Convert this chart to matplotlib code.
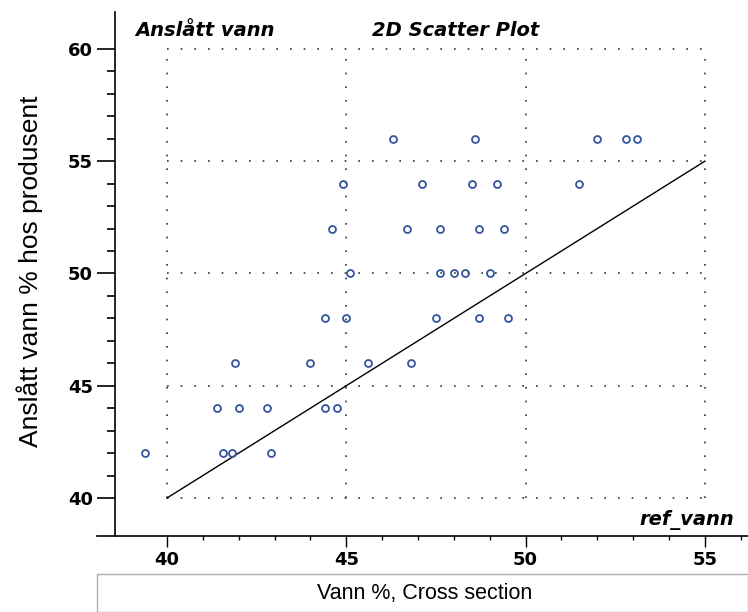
import matplotlib.pyplot as plt
from matplotlib.patches import Rectangle
from matplotlib.ticker import FixedLocator

# data (Vann % cross section vs. Anslått vann %)
x_vals = [46.3, 48.6, 52.0, 52.8, 53.1,
          44.9, 47.1, 48.5, 49.2, 51.5,
          44.6, 46.7, 47.6, 48.7, 49.4,
          45.1, 47.6, 48.0, 48.3, 49.0,
          44.4, 45.0, 47.5, 48.7, 49.5,
          41.9, 44.0, 45.6, 46.8,
          41.4, 42.0, 42.8, 44.4, 44.75,
          39.4, 41.55, 41.8, 42.9]
y_vals = [56, 56, 56, 56, 56,
          54, 54, 54, 54, 54,
          52, 52, 52, 52, 52,
          50, 50, 50, 50, 50,
          48, 48, 48, 48, 48,
          46, 46, 46, 46,
          44, 44, 44, 44, 44,
          42, 42, 42, 42]

ref_line = [40, 55]
x_major = [40, 45, 50, 55]
y_major = [40, 45, 50, 55, 60]
x_minor = list(range(40, 57))
y_minor = list(range(40, 61))

W, H = 748, 612
fig = plt.figure(figsize=(W / 100, H / 100), dpi=100)
ax = fig.add_axes([97 / W, (H - 536) / H, 1 - 97 / W, (536 - 12) / H])

ax.set_xlim(38.05, 56.2)
ax.set_ylim(38.31, 61.64)

# dotted grid inside the 40..55 / 40..60 box
dots = (0, (1, 7.2))
ax.hlines(y_major, x_major[0], x_major[-1], colors='#333333', linewidth=1.2, linestyles=[dots])
ax.vlines(x_major, y_major[0], y_major[-1], colors='#333333', linewidth=1.2, linestyles=[dots])

# reference line y = x
ax.plot(ref_line, ref_line, color='black', linewidth=1)

ax.plot(x_vals, y_vals, linestyle='none', marker='o', markersize=5,
        markerfacecolor='none', markeredgecolor='#34559c', markeredgewidth=1.3)

for s in ['top', 'right']:
    ax.spines[s].set_visible(False)
ax.spines['left'].set_position(('data', 38.55))
ax.spines['left'].set_linewidth(1.2)
ax.spines['bottom'].set_linewidth(1.2)

ax.xaxis.set_major_locator(FixedLocator(x_major))
ax.yaxis.set_major_locator(FixedLocator(y_major))
ax.xaxis.set_minor_locator(FixedLocator(x_minor))
ax.yaxis.set_minor_locator(FixedLocator(y_minor))
ax.set_xticklabels([str(v) for v in x_major])
ax.set_yticklabels([str(v) for v in y_major])

ax.tick_params(axis='x', which='major', length=8, width=1, pad=3)
ax.tick_params(axis='x', which='minor', length=3, width=1)
ax.tick_params(axis='y', which='major', length=13, width=1.2, pad=3)
ax.tick_params(axis='y', which='minor', length=6, width=1.2)
for lab in ax.get_xticklabels() + ax.get_yticklabels():
    lab.set_fontsize(13)
    lab.set_fontweight('bold')

# header / corner texts
head = dict(fontsize=14, fontweight='bold', style='italic', family='DejaVu Sans', va='center')
fig.text(135 / W, 1 - 30 / H, 'Anslått vann', ha='left', **head)
fig.text(456 / W, 1 - 30 / H, '2D Scatter Plot', ha='center', **head)
fig.text(734 / W, 1 - 520 / H, 'ref_vann', ha='right', **head)

# axis labels
fig.text(30 / W, 1 - 271 / H, 'Anslått vann % hos produsent', fontsize=19,
         family='Liberation Sans', rotation=90, ha='center', va='center')
fig.add_artist(Rectangle((97 / W, 0), 1 - 97 / W, (H - 574) / H,
                         transform=fig.transFigure, facecolor='none',
                         edgecolor='#b0b0b0', linewidth=1))
fig.text(425 / W, 1 - 593 / H, 'Vann %, Cross section', fontsize=15.5,
         family='Liberation Sans', ha='center', va='center')

fig.savefig('out.png', dpi=100)
